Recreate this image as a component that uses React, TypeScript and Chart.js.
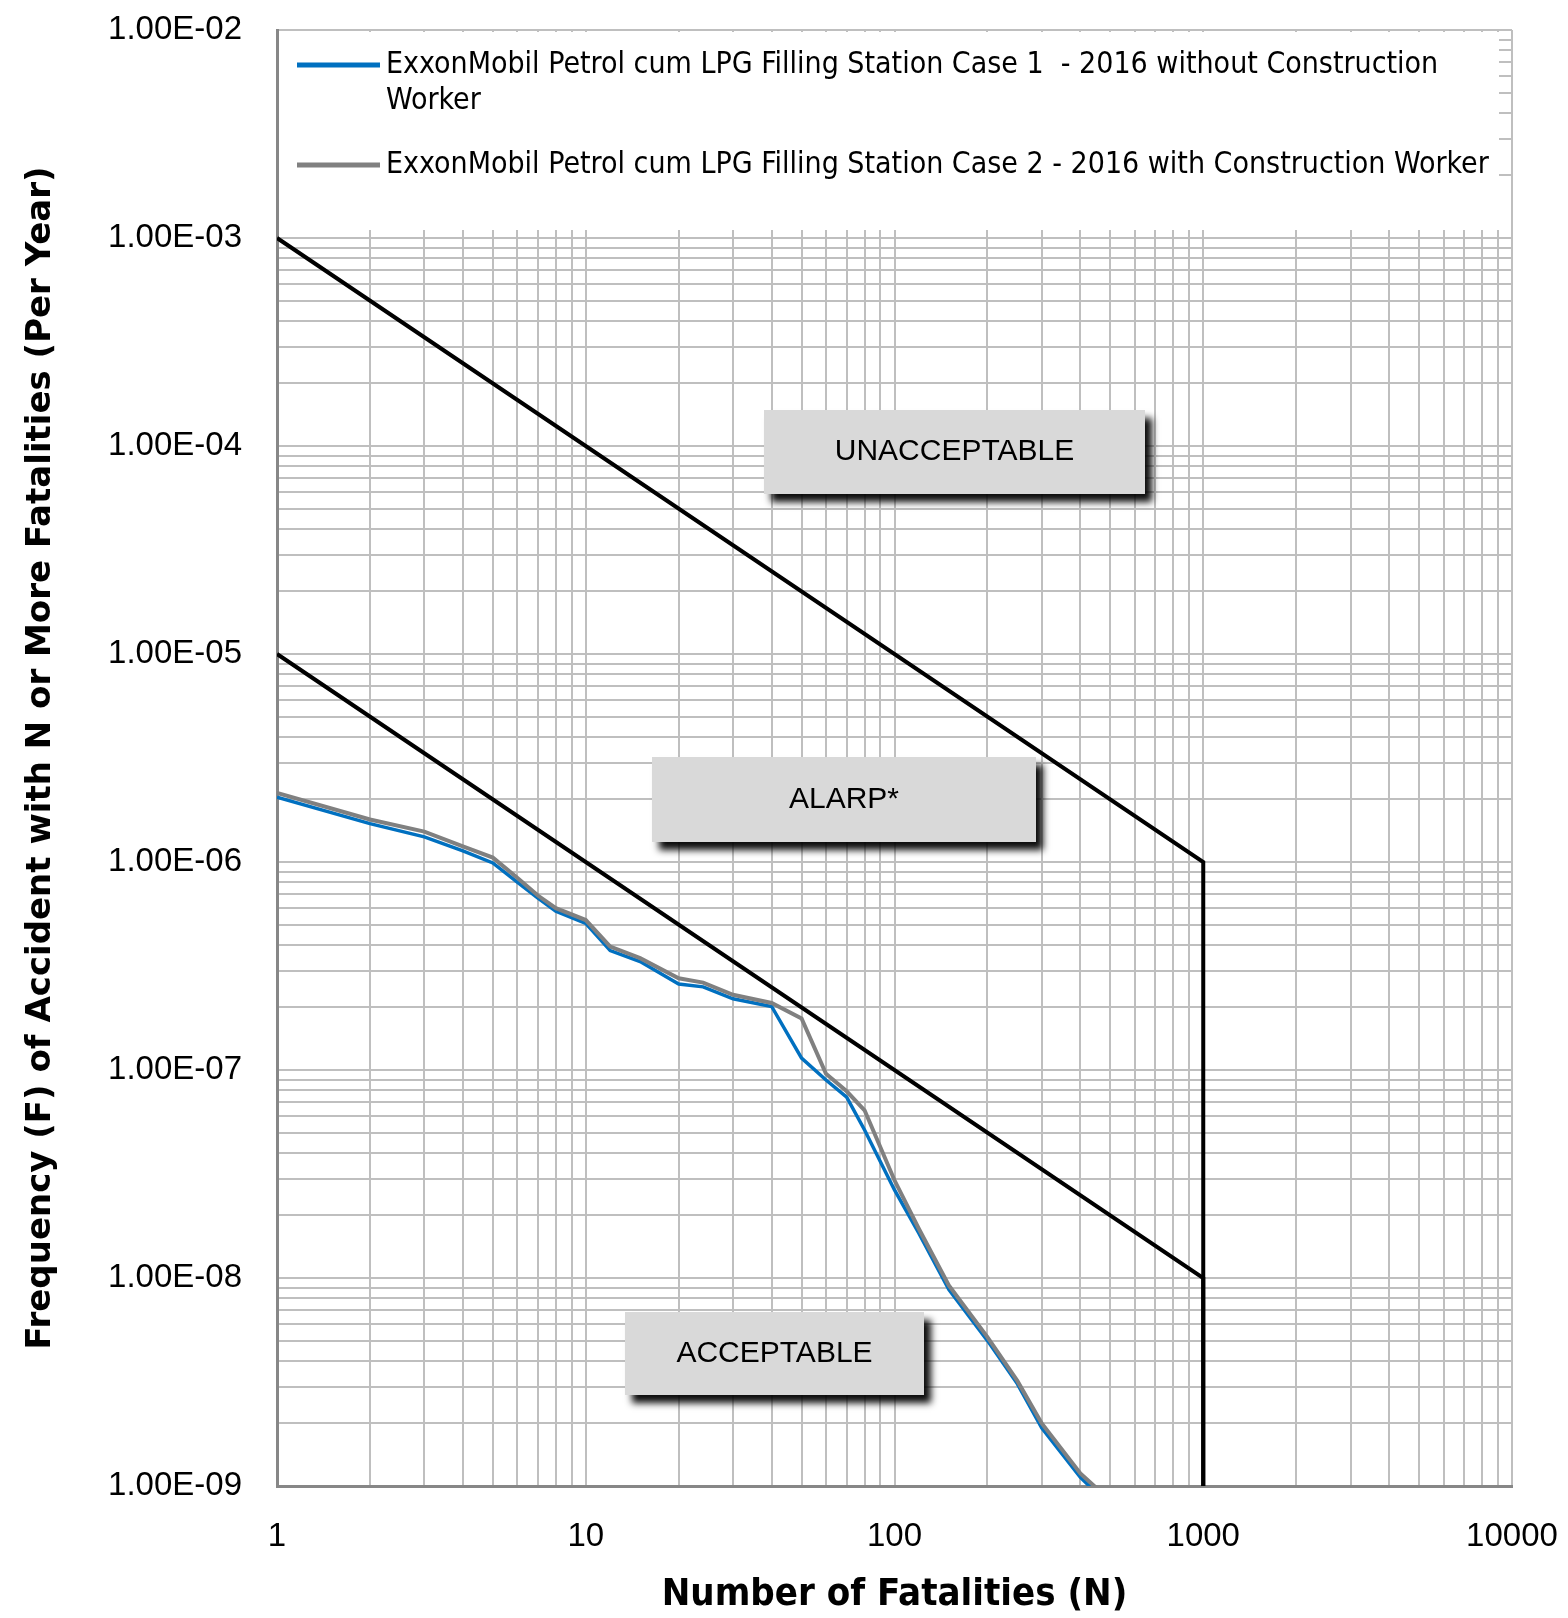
import React, { useEffect, useRef } from 'react';
import { Chart, registerables } from 'chart.js';

Chart.register(...registerables);

// ---------- DATA ----------
const seriesNames = [
  'ExxonMobil Petrol cum LPG Filling Station Case 1 - 2016 without Construction Worker',
  'ExxonMobil Petrol cum LPG Filling Station Case 2 - 2016 with Construction Worker',
];
const legendLines = [
  ['ExxonMobil Petrol cum LPG Filling Station Case 1  - 2016 without Construction', 'Worker'],
  ['ExxonMobil Petrol cum LPG Filling Station Case 2 - 2016 with Construction Worker'],
];

const case1N = [1, 2, 3, 4, 5, 6, 7, 8, 10, 12, 15, 20, 24, 30, 40, 50, 60, 70, 80, 100, 120, 150, 200, 250, 300, 400, 500];
const case1F = [2.05e-6, 1.53e-6, 1.32e-6, 1.13e-6, 9.9e-7, 8.0e-7, 6.7e-7, 5.8e-7, 5.07e-7, 3.75e-7, 3.32e-7, 2.59e-7, 2.51e-7, 2.2e-7, 2.02e-7, 1.14e-7, 8.95e-8, 7.4e-8, 5.15e-8, 2.65e-8, 1.64e-8, 8.8e-9, 5.0e-9, 3.1e-9, 1.9e-9, 1.1e-9, 8.0e-10];

const case2N = [1, 2, 3, 4, 5, 6, 7, 8, 10, 12, 15, 20, 24, 30, 40, 50, 60, 70, 80, 100, 120, 150, 200, 250, 300, 400, 500];
const case2F = [2.15e-6, 1.6e-6, 1.4e-6, 1.19e-6, 1.05e-6, 8.4e-7, 6.9e-7, 6.0e-7, 5.26e-7, 3.92e-7, 3.45e-7, 2.76e-7, 2.63e-7, 2.3e-7, 2.1e-7, 1.77e-7, 9.6e-8, 7.9e-8, 6.4e-8, 2.95e-8, 1.72e-8, 9.2e-9, 5.2e-9, 3.2e-9, 2.0e-9, 1.15e-9, 8.5e-10];

const upperN = [1, 1000, 1000];
const upperF = [1e-3, 1e-6, 1e-9];
const lowerN = [1, 1000, 1000];
const lowerF = [1e-5, 1e-8, 1e-9];

const xTickValues = [1, 10, 100, 1000, 10000];
const xTickLabels = ['1', '10', '100', '1000', '10000'];
const yTickValues = [1e-9, 1e-8, 1e-7, 1e-6, 1e-5, 1e-4, 1e-3, 1e-2];
const yTickLabels = ['1.00E-09', '1.00E-08', '1.00E-07', '1.00E-06', '1.00E-05', '1.00E-04', '1.00E-03', '1.00E-02'];

const zoneLabels = ['UNACCEPTABLE', 'ALARP*', 'ACCEPTABLE'];

const xTitle = 'Number of Fatalities (N)';
const yTitle = 'Frequency (F) of Accident with N or More Fatalities (Per Year)';

// ---------- STYLE / LAYOUT ----------
const W = 1568;
const H = 1618;
const GRID = '#bfbfbf';
const AXIS = '#878787';
const BLUE = '#0070c0';
const GRAY = '#808080';
const TICK_FONT = "'Liberation Sans', Arial, sans-serif";
const NARROW_FONT = "'Liberation Sans Narrow', 'DejaVu Sans Condensed', 'Liberation Sans', sans-serif";

// zone boxes relative to chart area (left/top offsets, width/height in px)
const zoneBoxes = [
  { dx: 487, dy: 380, w: 381, h: 84 },
  { dx: 375, dy: 727, w: 384, h: 85 },
  { dx: 348, dy: 1282, w: 299, h: 83 },
];

function gridValues(minExp: number, maxExp: number): number[] {
  const out: number[] = [];
  for (let e = minExp; e < maxExp; e++) {
    for (let m = 1; m <= 9; m++) out.push(m * Math.pow(10, e));
  }
  out.push(Math.pow(10, maxExp));
  return out;
}

function labelFor(value: number, vals: number[], labels: string[]): string {
  const i = vals.findIndex((d) => Math.abs(Math.log10(d) - Math.log10(value)) < 1e-6);
  return i >= 0 ? labels[i] : '';
}

const toPts = (xs: number[], ys: number[]) => xs.map((x, i) => ({ x, y: ys[i] }));

const overlayPlugin = {
  id: 'overlay',
  afterDatasetsDraw(chart: any) {
    const { ctx, chartArea: a } = chart;
    ctx.save();
    // legend box (white, covering the top decade grid)
    ctx.fillStyle = '#ffffff';
    ctx.fillRect(a.left + 2, a.top + 2, a.right - 13 - (a.left + 2), 198);

    const sampleX0 = a.left + 20;
    const sampleX1 = a.left + 103;
    const textX = a.left + 109;
    const rows = [a.top + 35, a.top + 135];
    const colors = [BLUE, GRAY];
    ctx.font = `30px ${NARROW_FONT}`;
    ctx.textBaseline = 'middle';
    ctx.textAlign = 'left';
    rows.forEach((ry, i) => {
      ctx.strokeStyle = colors[i];
      ctx.lineWidth = 5;
      ctx.beginPath();
      ctx.moveTo(sampleX0, ry);
      ctx.lineTo(sampleX1, ry);
      ctx.stroke();
      ctx.fillStyle = '#000';
      legendLines[i].forEach((t, j) => ctx.fillText(t, textX, ry + j * 36));
    });

    // zone boxes
    zoneBoxes.forEach((b, i) => {
      const x = a.left + b.dx;
      const y = a.top + b.dy;
      ctx.save();
      ctx.shadowColor = 'rgba(0,0,0,0.95)';
      ctx.shadowBlur = 7;
      ctx.shadowOffsetX = 7;
      ctx.shadowOffsetY = 8;
      ctx.fillStyle = '#d9d9d9';
      ctx.fillRect(x, y, b.w, b.h);
      ctx.restore();
      ctx.fillStyle = '#d9d9d9';
      ctx.fillRect(x, y, b.w, b.h);
      ctx.fillStyle = '#000';
      ctx.font = `30px ${TICK_FONT}`;
      ctx.textAlign = 'center';
      ctx.textBaseline = 'middle';
      ctx.fillText(zoneLabels[i], x + b.w / 2, y + b.h / 2);
    });
    ctx.restore();
  },
};

export default function App() {
  const ref = useRef<HTMLCanvasElement | null>(null);

  useEffect(() => {
    if (!ref.current) return;
    const chart = new Chart(ref.current, {
      type: 'scatter',
      data: {
        datasets: [
          {
            label: 'upper',
            data: toPts(upperN, upperF),
            showLine: true,
            borderColor: '#000',
            borderWidth: 4,
            pointRadius: 0,
            order: 0,
          },
          {
            label: 'lower',
            data: toPts(lowerN, lowerF),
            showLine: true,
            borderColor: '#000',
            borderWidth: 4,
            pointRadius: 0,
            order: 0,
          },
          {
            label: seriesNames[1],
            data: toPts(case2N, case2F),
            showLine: true,
            borderColor: GRAY,
            borderWidth: 4,
            pointRadius: 0,
            order: 1,
          },
          {
            label: seriesNames[0],
            data: toPts(case1N, case1F),
            showLine: true,
            borderColor: BLUE,
            borderWidth: 3.5,
            pointRadius: 0,
            order: 2,
          },
        ],
      },
      options: {
        responsive: false,
        animation: false,
        devicePixelRatio: 1,
        layout: { padding: { top: 30, right: 56, left: 0, bottom: 0 } },
        plugins: {
          legend: { display: false },
          tooltip: { enabled: false },
        },
        scales: {
          x: {
            type: 'logarithmic',
            min: 1,
            max: 10000,
            afterBuildTicks: (scale: any) => {
              scale.ticks = gridValues(0, 4).map((v) => ({ value: v }));
            },
            afterFit: (scale: any) => {
              scale.height = 132;
              scale.paddingLeft = 0;
              scale.paddingRight = 0;
            },
            grid: { color: GRID, lineWidth: 2, drawTicks: false },
            border: { display: true, color: AXIS, width: 3 },
            ticks: {
              autoSkip: false,
              maxRotation: 0,
              padding: 31,
              color: '#000',
              font: { family: TICK_FONT, size: 33 },
              callback: (v: any) => labelFor(Number(v), xTickValues, xTickLabels),
            },
            title: {
              display: true,
              text: xTitle,
              color: '#000',
              font: { family: NARROW_FONT, size: 38, weight: 'bold' },
              padding: { top: 0, bottom: 0 },
            },
          },
          y: {
            type: 'logarithmic',
            min: 1e-9,
            max: 1e-2,
            afterBuildTicks: (scale: any) => {
              scale.ticks = gridValues(-9, -2).map((v) => ({ value: v }));
            },
            afterFit: (scale: any) => {
              scale.width = 277;
              scale.paddingTop = 0;
              scale.paddingBottom = 0;
            },
            grid: { color: GRID, lineWidth: 2, drawTicks: false },
            border: { display: true, color: AXIS, width: 3 },
            ticks: {
              autoSkip: false,
              padding: 35,
              color: '#000',
              font: { family: TICK_FONT, size: 33 },
              callback: (v: any) => labelFor(Number(v), yTickValues, yTickLabels),
            },
            title: {
              display: true,
              text: yTitle,
              color: '#000',
              font: { family: "'DejaVu Sans', Verdana, sans-serif", size: 34, weight: 'bold' },
              padding: { top: 21, bottom: 0 },
            },
          },
        },
      },
      plugins: [overlayPlugin],
    } as any);
    return () => chart.destroy();
  }, []);

  return (
    <div style={{ position: 'absolute', left: 0, top: 0, width: W, height: H, background: '#fff' }}>
      <canvas ref={ref} width={W} height={H} style={{ width: W, height: H, display: 'block' }} />
    </div>
  );
}
